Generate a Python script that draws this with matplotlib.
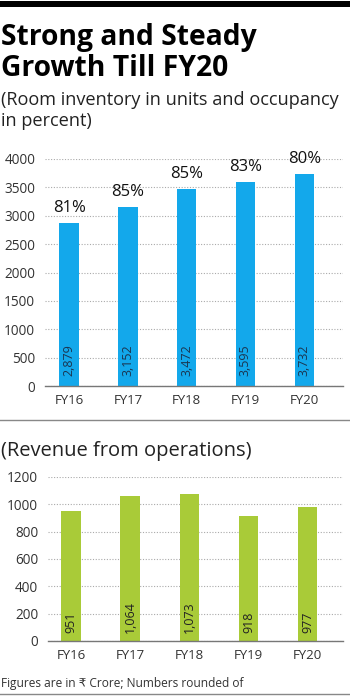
import matplotlib.pyplot as plt
import matplotlib.patches as mpatches

# data
years = ['FY16', 'FY17', 'FY18', 'FY19', 'FY20']
rooms = [2879, 3152, 3472, 3595, 3732]
room_labels = ['2,879', '3,152', '3,472', '3,595', '3,732']
occupancy = ['81%', '85%', '85%', '83%', '80%']
revenue = [951, 1064, 1073, 918, 977]
revenue_labels = ['951', '1,064', '1,073', '918', '977']

W, H = 350, 699
plt.rcParams['font.family'] = ['Open Sans', 'DejaVu Sans']

fig = plt.figure(figsize=(W / 100, H / 100), dpi=100)

def fx(px):
    return px / W

def fy(py):
    return 1 - py / H

# top black band and rules
fig.add_artist(mpatches.Rectangle((0, fy(7)), 1, fy(1) - fy(7), transform=fig.transFigure,
                                  color='black', lw=0))
fig.add_artist(plt.Line2D([0, 1], [fy(420), fy(420)], color='#888888', lw=1))
fig.add_artist(plt.Line2D([0, 1], [fy(694), fy(694)], color='#888888', lw=1))

# titles
fig.text(fx(1), fy(38), 'Strong and Steady', fontsize=20.3, fontweight='bold', va='center')
fig.text(fx(1), fy(68), 'Growth Till FY20', fontsize=20.3, fontweight='bold', va='center')
fig.text(fx(1), fy(100), '(Room inventory in units and occupancy', fontsize=13.1, va='center',
         color='#222222')
fig.text(fx(1), fy(121), 'in percent)', fontsize=13.1, va='center', color='#222222')
fig.text(fx(1), fy(451), '(Revenue from operations)', fontsize=14.5, va='center', color='#222222')
fig.text(fx(1), fy(683), 'Figures are in \u20b9 Crore; Numbers rounded of', fontsize=8.6,
         va='center', color='#333333')

blue = '#13A8EB'
green = '#A9CB38'


def style(ax):
    for s in ['top', 'right', 'left']:
        ax.spines[s].set_visible(False)
    ax.spines['bottom'].set_color('#777777')
    ax.spines['bottom'].set_linewidth(1)
    ax.tick_params(length=0, labelsize=9.8, colors='#333333', pad=7)
    ax.tick_params(axis='x', labelsize=9.5, pad=6)
    ax.yaxis.grid(True, linestyle=(0, (1, 1.5)), color='#aaaaaa', lw=0.8)
    ax.set_axisbelow(True)


# room inventory chart
ax1 = fig.add_axes([fx(45), fy(386), fx(343) - fx(45), fy(159) - fy(386)])
x = range(len(years))
ax1.bar(x, rooms, width=0.33, color=blue, zorder=2)
ax1.set_xlim(-0.41, 4.66)
ax1.set_ylim(0, 4000)
ax1.set_yticks(range(0, 4001, 500))
ax1.set_xticks(list(x))
ax1.set_xticklabels(years)
style(ax1)
for i, v in enumerate(rooms):
    ax1.text(i, v + 120, occupancy[i], ha='center', va='bottom', fontsize=12, color='#111111',
             clip_on=False)
    ax1.text(i, 170, room_labels[i], rotation=90, ha='center', va='bottom', fontsize=9,
             color='#1b3550')

# revenue chart
ax2 = fig.add_axes([fx(48), fy(641), fx(343) - fx(48), fy(477) - fy(641)])
ax2.bar(x, revenue, width=0.33, color=green, zorder=2)
ax2.set_xlim(-0.39, 4.6)
ax2.set_ylim(0, 1200)
ax2.set_yticks(range(0, 1201, 200))
ax2.set_xticks(list(x))
ax2.set_xticklabels(years)
style(ax2)
for i, v in enumerate(revenue):
    ax2.text(i, 55, revenue_labels[i], rotation=90, ha='center', va='bottom', fontsize=9,
             color='#222222')

fig.savefig('out.png', dpi=100)
